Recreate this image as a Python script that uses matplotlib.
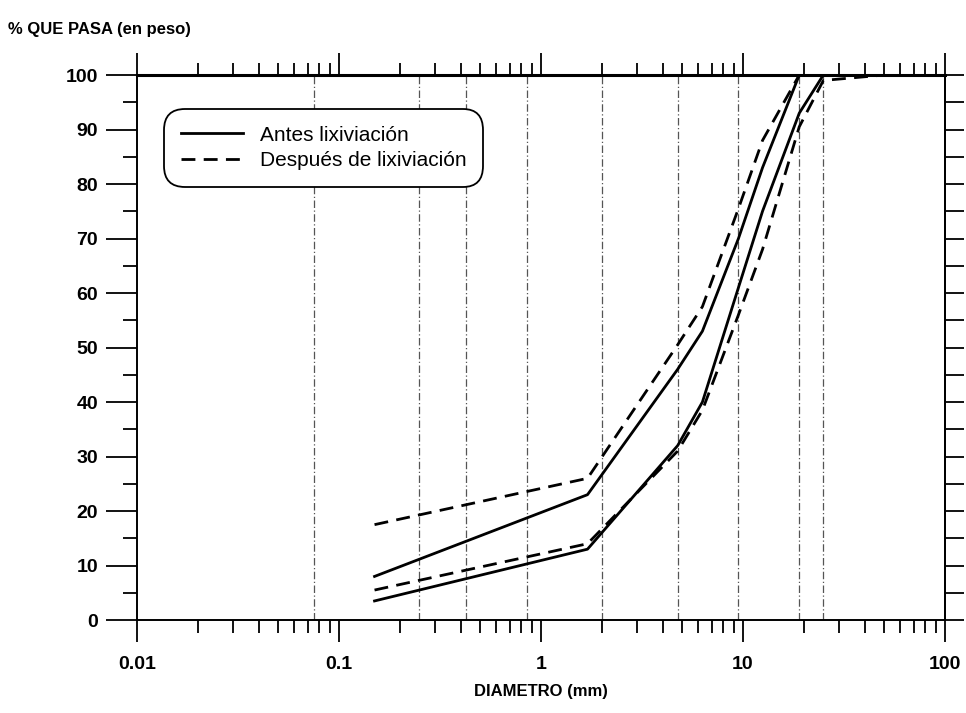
import matplotlib
matplotlib.use("Agg")
import matplotlib.pyplot as plt
from matplotlib.ticker import FixedLocator, NullFormatter, FixedFormatter

plt.rcParams['font.family'] = ['Liberation Sans', 'DejaVu Sans']

# Sieve sizes (mm) used for the curves
sizes = [0.15, 1.7, 4.75, 6.3, 9.5, 12.5, 19, 25, 50]
# Antes lixiviación (solid) – upper and lower envelopes
antes_sup = [8, 23, 46, 53, 70, 83, 100, 100, 100]
antes_inf = [3.5, 13, 32, 40, 61, 75, 93, 100, 100]
# Después de lixiviación (dashed) – upper and lower envelopes
despues_sup = [17.5, 26, 50.5, 57.5, 75.5, 88, 100, 100, 100]
despues_inf = [5.5, 14, 31, 38.5, 56, 68, 90.5, 99, 100]

# Reference sieve openings (vertical dash-dot lines)
sieve_lines = [0.075, 0.25, 0.425, 0.85, 2.0, 4.75, 9.5, 19, 25]

x_ticks = [0.01, 0.1, 1, 10, 100]
x_ticklabels = ['0.01', '0.1', '1', '10', '100']
y_ticks = [0, 10, 20, 30, 40, 50, 60, 70, 80, 90, 100]
y_minor = [5, 15, 25, 35, 45, 55, 65, 75, 85, 95]

fig = plt.figure(figsize=(9.66, 7.13), dpi=100)
ax = fig.add_axes([0.1418, 0.1304, 0.8364, 0.7644])

for s in sieve_lines:
    ax.axvline(s, color='#555555', lw=0.9, ls='-.', dashes=(6, 2, 1, 2), zorder=1)

lw = 2.0
ax.plot(sizes, antes_sup, color='black', lw=lw, label='Antes lixiviación', zorder=3)
ax.plot(sizes, antes_inf, color='black', lw=lw, zorder=3)
ax.plot(sizes, despues_sup, color='black', lw=lw, ls=(0, (5, 3)), label='Después de lixiviación', zorder=3)
ax.plot(sizes, despues_inf, color='black', lw=lw, ls=(0, (5, 3)), zorder=3)

ax.set_xscale('log')
ax.set_xlim(0.01, 100)
ax.set_ylim(0, 100)

ax.xaxis.set_major_locator(FixedLocator(x_ticks))
ax.xaxis.set_major_formatter(FixedFormatter(x_ticklabels))
ax.xaxis.set_minor_locator(FixedLocator([m * d for d in [0.01, 0.1, 1, 10] for m in range(2, 10)]))
ax.xaxis.set_minor_formatter(NullFormatter())
ax.yaxis.set_major_locator(FixedLocator(y_ticks))
ax.yaxis.set_minor_locator(FixedLocator(y_minor))

ax.tick_params(axis='x', which='major', direction='out', length=16, width=1.3,
               top=True, bottom=True, labelsize=14, pad=10)
ax.tick_params(axis='x', which='minor', direction='out', length=9, width=1.3,
               top=True, bottom=True)
ax.tick_params(axis='y', which='major', direction='out', length=22, width=1.3,
               left=True, right=False, labelsize=14, pad=6)
ax.tick_params(axis='y', which='minor', direction='out', length=10, width=1.3,
               left=True, right=False)
for lab in ax.get_xticklabels() + ax.get_yticklabels():
    lab.set_fontweight('bold')

sec = ax.secondary_yaxis('right')
sec.yaxis.set_major_locator(FixedLocator(y_ticks + y_minor))
sec.tick_params(axis='y', which='major', direction='out', length=14, width=1.3,
                labelright=False)
sec.spines['right'].set_linewidth(1.4)

for sp in ax.spines.values():
    sp.set_linewidth(1.4)
ax.spines['top'].set_linewidth(2.2)

ax.set_xlabel('DIAMETRO (mm)', fontsize=12, fontweight='bold', labelpad=8)
fig.text(0.008, 0.958, '% QUE PASA (en peso)', fontsize=12, fontweight='bold',
         ha='left', va='center')

leg = ax.legend(loc='upper left', bbox_to_anchor=(0.026, 0.949), fontsize=15,
                frameon=True, fancybox=True, handlelength=3.0, borderpad=0.6,
                labelspacing=0.3, handletextpad=0.8)
leg.get_frame().set_edgecolor('black')
leg.get_frame().set_linewidth(1.3)
leg.get_frame().set_alpha(1)
leg.get_frame().set_boxstyle('round,pad=0.2,rounding_size=1.0')

fig.savefig('out.png', dpi=100)
